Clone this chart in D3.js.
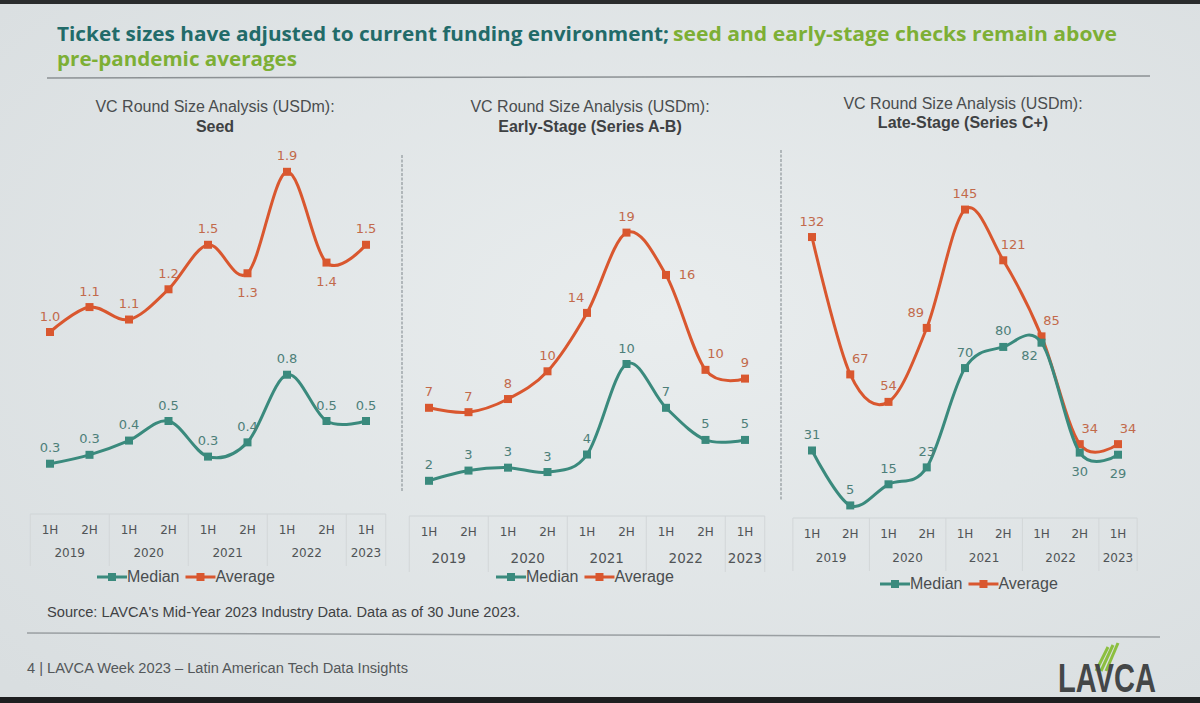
<!DOCTYPE html>
<html><head><meta charset="utf-8">
<script src="https://cdn.jsdelivr.net/npm/d3@7"></script>
<style>
html,body{margin:0;padding:0;background:#e3e7e9;}
svg{display:block;}
</style></head>
<body>
<script>
// ---------- DATA ----------
const periods = ["1H","2H","1H","2H","1H","2H","1H","2H","1H"];
const years = ["2019","2020","2021","2022","2023"];
const yearSpans = [2,2,2,2,1];

const seedMedian  = [0.26,0.31,0.39,0.5,0.3,0.38,0.76,0.5,0.5];
const seedAverage = [1.0,1.14,1.07,1.24,1.49,1.33,1.9,1.39,1.49];
const earlyMedian  = [2.0,2.7,2.9,2.6,3.8,10.0,7.0,4.8,4.8];
const earlyAverage = [7.0,6.7,7.6,9.5,13.5,19.0,16.1,9.6,9.0];
const lateMedian  = [31,5,15,23,70,80,82,30,29];
const lateAverage = [132,67,54,89,145,121,85,34,34];

// label placement codes (t=top, b=bottom, tr/tl=top-right/left, r=right, bl=bottom-left)
const seedMedianPos  = ["t","t","t","t","t","t","t","t","t"];
const seedAveragePos = ["t","t","t","t","t","b","t","b","t"];
const earlyMedianPos  = ["t","t","t","t","t","t","t","t","t"];
const earlyAveragePos = ["t","t","t","t","tl","t","r","tr","t"];
const lateMedianPos  = ["t","t","t","t","t","t","bl","b","b"];
const lateAveragePos = ["t","tr","t","tl","t","tr","tr","tr","tr"];

const panelTitles = ["VC Round Size Analysis (USDm):","VC Round Size Analysis (USDm):","VC Round Size Analysis (USDm):"];
const panelSubtitles = ["Seed","Early-Stage (Series A-B)","Late-Stage (Series C+)"];

// ---------- STYLE ----------
const W = 1200, H = 703;
const cMed = "#3a8a7d", cAvg = "#d9572f";
const cMedLbl = "#4d7f79", cAvgLbl = "#c26a4b";
const fontLbl = "'DejaVu Sans', Verdana, sans-serif";
const fontNarrow = "'Liberation Sans Narrow','Arial Narrow','Liberation Sans',Arial,sans-serif";

const svg = d3.select("body").append("svg").attr("width", W).attr("height", H);

const defs = svg.append("defs");
const rg = defs.append("radialGradient").attr("id","bg").attr("cx","55%").attr("cy","45%").attr("r","75%");
rg.append("stop").attr("offset","0%").attr("stop-color","#e9edee");
rg.append("stop").attr("offset","100%").attr("stop-color","#d9dee0");
svg.append("rect").attr("width",W).attr("height",H).attr("fill","url(#bg)");
// photo edges
svg.append("rect").attr("x",0).attr("y",0).attr("width",W).attr("height",4).attr("fill","#2a2c2d");
svg.append("rect").attr("x",0).attr("y",697).attr("width",W).attr("height",6).attr("fill","#1e1f20");

// ---------- TITLE ----------
svg.append("text").attr("x",57).attr("y",41)
  .attr("font-family","'Open Sans',Roboto,sans-serif").attr("font-weight",700).attr("font-size",19)
  .attr("fill","#226b69").attr("textLength",612).attr("lengthAdjust","spacingAndGlyphs")
  .text("Ticket sizes have adjusted to current funding environment;");
svg.append("text").attr("x",673).attr("y",41)
  .attr("font-family","'Open Sans',Roboto,sans-serif").attr("font-weight",700).attr("font-size",19)
  .attr("fill","#7daf35").attr("textLength",444).attr("lengthAdjust","spacingAndGlyphs")
  .text("seed and early-stage checks remain above");
svg.append("text").attr("x",57).attr("y",66)
  .attr("font-family","'Open Sans',Roboto,sans-serif").attr("font-weight",700).attr("font-size",19)
  .attr("fill","#7daf35").attr("textLength",240).attr("lengthAdjust","spacingAndGlyphs")
  .text("pre-pandemic averages");
svg.append("line").attr("x1",47).attr("x2",1150).attr("y1",78).attr("y2",76)
  .attr("stroke","#8c9194").attr("stroke-width",1.5);

// dividers
[[402,155,492],[781,150,500]].forEach(d=>{
  svg.append("line").attr("x1",d[0]).attr("x2",d[0]).attr("y1",d[1]).attr("y2",d[2])
    .attr("stroke","#8f979b").attr("stroke-width",1.2).attr("stroke-dasharray","3,1.5");
});

// ---------- PANELS ----------
const panels = [
  {x0:50, x1:366, yMax:2, yTop:154, yBot:510, med:seedMedian, avg:seedAverage, medPos:seedMedianPos, avgPos:seedAveragePos,
   fmt:d3.format(".1f"), titleY:112, subY:132, cx:215, tickY:534, yearY:557, legY:582, legX:97, yrSize:12},
  {x0:429, x1:745, yMax:20, yTop:218, yBot:510, med:earlyMedian, avg:earlyAverage, medPos:earlyMedianPos, avgPos:earlyAveragePos,
   fmt:d3.format(".0f"), titleY:112, subY:132, cx:590, tickY:536, yearY:563, legY:582, legX:496, yrSize:13.5},
  {x0:812, x1:1118, yMax:150, yTop:199, yBot:516, med:lateMedian, avg:lateAverage, medPos:lateMedianPos, avgPos:lateAveragePos,
   fmt:d3.format(".0f"), titleY:109, subY:128, cx:963, tickY:538, yearY:562, legY:589, legX:880, yrSize:12}
];

const offs = {t:[0,-16], b:[0,19], tr:[10,-16], tl:[-11,-15], r:[21,0], bl:[-12,13]};

panels.forEach((p,pi)=>{
  const g = svg.append("g");
  const idx = d3.range(periods.length);
  const x = d3.scalePoint().domain(idx).range([p.x0,p.x1]);
  const y = d3.scaleLinear().domain([0,p.yMax]).range([p.yBot,p.yTop]);
  const step = x.step();

  g.append("text").attr("x",p.cx).attr("y",p.titleY).attr("text-anchor","middle")
    .attr("font-family",fontNarrow).attr("font-size",16).attr("fill","#4a4d4f")
    .text(panelTitles[pi]);
  g.append("text").attr("x",p.cx).attr("y",p.subY).attr("text-anchor","middle")
    .attr("font-family",fontNarrow).attr("font-weight",700).attr("font-size",16).attr("fill","#3e4143")
    .text(panelSubtitles[pi]);

  // category axis table
  const left = p.x0 - step/2, right = p.x1 + step/2;
  const tTop = p.tickY - 20, tBot = p.yearY + 9;
  const ax = g.append("g");
  ax.append("line").attr("x1",left).attr("x2",right).attr("y1",tTop).attr("y2",tTop)
    .attr("stroke","#cfd4d6").attr("stroke-width",1);
  let cum = 0;
  const bounds = [0];
  yearSpans.forEach(s=>{cum+=s; bounds.push(cum);});
  bounds.forEach(b=>{
    const bx = left + b*step;
    ax.append("line").attr("x1",bx).attr("x2",bx).attr("y1",tTop).attr("y2",tBot)
      .attr("stroke","#d2d6d8").attr("stroke-width",1);
  });
  ax.selectAll("text.per").data(periods).join("text").attr("class","per")
    .attr("x",(d,i)=>x(i)).attr("y",p.tickY).attr("text-anchor","middle")
    .attr("font-family",fontLbl).attr("font-size",12).attr("fill","#505456")
    .text(d=>d);
  ax.selectAll("text.yr").data(years).join("text").attr("class","yr")
    .attr("x",(d,i)=>left + (bounds[i]+bounds[i+1])/2*step).attr("y",p.yearY).attr("text-anchor","middle")
    .attr("font-family",fontLbl).attr("font-size",p.yrSize).attr("fill","#505456")
    .text(d=>d);

  const line = d3.line().x((d,i)=>x(i)).y(d=>y(d)).curve(d3.curveCardinal.tension(0));

  [[p.avg,cAvg,cAvgLbl,p.avgPos],[p.med,cMed,cMedLbl,p.medPos]].forEach(([vals,col,lcol,pos])=>{
    g.append("path").datum(vals).attr("d",line).attr("fill","none")
      .attr("stroke",col).attr("stroke-width",3);
    g.selectAll(null).data(vals).join("rect")
      .attr("x",(d,i)=>x(i)-4).attr("y",d=>y(d)-4).attr("width",8).attr("height",8).attr("fill",col);
    g.selectAll(null).data(vals).join("text")
      .attr("x",(d,i)=>x(i)+offs[pos[i]][0]).attr("y",(d,i)=>y(d)+offs[pos[i]][1]+4.5)
      .attr("text-anchor","middle").attr("font-family",fontLbl).attr("font-size",13)
      .attr("fill",lcol).text(d=>p.fmt(d));
  });

  // legend
  const lg = g.append("g").attr("transform",`translate(${p.legX},${p.legY})`);
  const items = [["Median",cMed],["Average",cAvg]];
  let lx = 0;
  items.forEach(([name,col])=>{
    lg.append("line").attr("x1",lx).attr("x2",lx+30).attr("y1",-5).attr("y2",-5).attr("stroke",col).attr("stroke-width",3);
    lg.append("rect").attr("x",lx+11).attr("y",-9).attr("width",8).attr("height",8).attr("fill",col);
    const t = lg.append("text").attr("x",lx+30).attr("y",0).attr("font-family",fontNarrow)
      .attr("font-size",16).attr("fill","#4a4d4f").text(name);
    lx += 30 + t.node().getComputedTextLength() + 6;
  });
});

// ---------- FOOTER ----------
svg.append("text").attr("x",47).attr("y",617).attr("font-family",fontNarrow).attr("font-size",14)
  .attr("fill","#3f4244").attr("textLength",473).attr("lengthAdjust","spacingAndGlyphs")
  .text("Source: LAVCA's Mid-Year 2023 Industry Data. Data as of 30 June 2023.");
svg.append("line").attr("x1",27).attr("x2",1160).attr("y1",633).attr("y2",637)
  .attr("stroke","#9a9fa2").attr("stroke-width",1.5);
svg.append("text").attr("x",27).attr("y",673).attr("font-family",fontNarrow).attr("font-size",14)
  .attr("fill","#54585a").attr("textLength",381).attr("lengthAdjust","spacingAndGlyphs")
  .text("4 | LAVCA Week 2023 – Latin American Tech Data Insights");

// logo
const logo = svg.append("g");
[0,1,2].forEach(i=>{
  logo.append("line").attr("x1",1096+i*5).attr("y1",671).attr("x2",1108+i*5).attr("y2",647-i*2)
    .attr("stroke","#8cbf3f").attr("stroke-width",3);
});
logo.append("text").attr("x",1058).attr("y",692).attr("font-family",fontNarrow).attr("font-size",40)
  .attr("font-weight",700).attr("fill","#444748").attr("textLength",98).attr("lengthAdjust","spacingAndGlyphs").text("LAVCA");
</script>
</body></html>
